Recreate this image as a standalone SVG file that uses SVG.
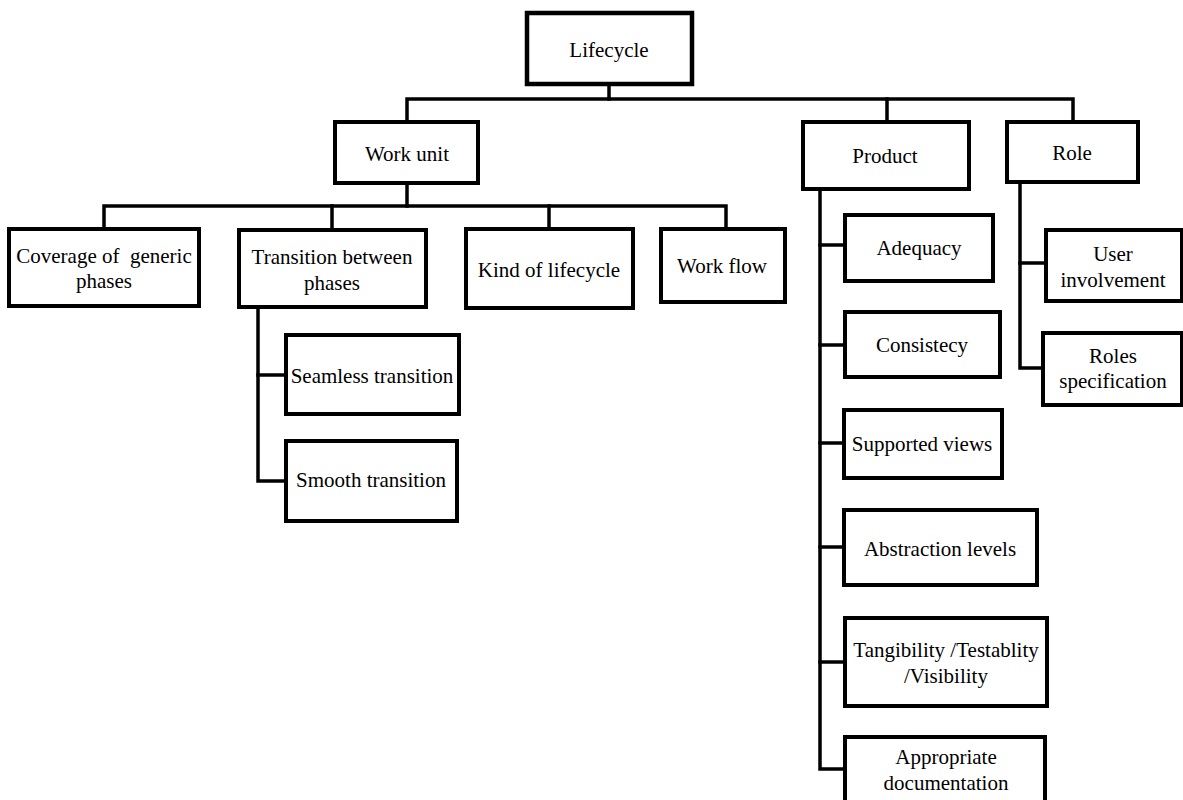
<svg xmlns="http://www.w3.org/2000/svg" width="1183" height="800" viewBox="0 0 1183 800">
  <defs>
    <!-- shared label look -->
  </defs>
  <rect width="1183" height="800" fill="#ffffff"/>

  <!-- connectors -->
  <g id="connectors" fill="none" stroke="#000000" stroke-width="3.5" stroke-linecap="square">
    <!-- root to first level -->
    <path d="M609 84 V99"/>
    <path d="M407 122 V99 H1073 V122"/>
    <path d="M887 99 V122"/>
    <!-- work unit children -->
    <path d="M407 183 V206"/>
    <path d="M104 229 V206 H726 V229"/>
    <path d="M332 206 V230"/>
    <path d="M549 206 V229"/>
    <!-- transition children -->
    <path d="M258 307 V481 H286"/>
    <path d="M258 375 H286"/>
    <!-- product children -->
    <path d="M820 189 V769 H845"/>
    <path d="M820 245 H845"/>
    <path d="M820 345 H845"/>
    <path d="M820 443 H844"/>
    <path d="M820 547 H844"/>
    <path d="M820 662 H845"/>
    <!-- role children -->
    <path d="M1020 182 V368 H1043"/>
    <path d="M1020 263 H1046"/>
  </g>

  <!-- nodes: white boxes with heavy black outline, centred labels -->
  <g id="nodes" fill="#ffffff" stroke="#000000" stroke-width="4">
  <g id="lifecycle">
    <rect x="527" y="13" width="165" height="71" stroke-width="4.5"/>
    <text x="609" y="57" font-family="'Liberation Serif'" font-size="21" text-anchor="middle" fill="#000000" stroke="none">Lifecycle</text>
  </g>

  <g id="work-unit">
    <rect x="335" y="122" width="143" height="61"/>
    <text x="407" y="161" font-family="'Liberation Serif'" font-size="21" text-anchor="middle" fill="#000000" stroke="none">Work unit</text>
  </g>

  <g id="product">
    <rect x="803" y="122" width="166" height="67"/>
    <text x="885" y="163" font-family="'Liberation Serif'" font-size="21" text-anchor="middle" fill="#000000" stroke="none">Product</text>
  </g>

  <g id="role">
    <rect x="1007" y="122" width="131" height="60"/>
    <text x="1072" y="160" font-family="'Liberation Serif'" font-size="21" text-anchor="middle" fill="#000000" stroke="none">Role</text>
  </g>

  <g id="coverage">
    <rect x="9" y="229" width="190" height="77"/>
    <text x="104" y="263" font-family="'Liberation Serif'" font-size="21" text-anchor="middle" fill="#000000" stroke="none" xml:space="preserve">Coverage of  generic</text>
    <text x="104" y="288" font-family="'Liberation Serif'" font-size="21" text-anchor="middle" fill="#000000" stroke="none">phases</text>
  </g>

  <g id="transition">
    <rect x="239" y="230" width="187" height="77"/>
    <text x="332" y="264" font-family="'Liberation Serif'" font-size="21" text-anchor="middle" fill="#000000" stroke="none">Transition between</text>
    <text x="332" y="290" font-family="'Liberation Serif'" font-size="21" text-anchor="middle" fill="#000000" stroke="none">phases</text>
  </g>

  <g id="kind">
    <rect x="466" y="229" width="167" height="79"/>
    <text x="549" y="277" font-family="'Liberation Serif'" font-size="21" text-anchor="middle" fill="#000000" stroke="none">Kind of lifecycle</text>
  </g>

  <g id="work-flow">
    <rect x="661" y="229" width="124" height="73"/>
    <text x="722" y="273" font-family="'Liberation Serif'" font-size="21" text-anchor="middle" fill="#000000" stroke="none">Work flow</text>
  </g>

  <g id="seamless">
    <rect x="286" y="335" width="173" height="79"/>
    <text x="372" y="383" font-family="'Liberation Serif'" font-size="21" text-anchor="middle" fill="#000000" stroke="none">Seamless transition</text>
  </g>

  <g id="smooth">
    <rect x="286" y="441" width="171" height="80"/>
    <text x="371" y="487" font-family="'Liberation Serif'" font-size="21" text-anchor="middle" fill="#000000" stroke="none">Smooth transition</text>
  </g>

  <g id="adequacy">
    <rect x="845" y="215" width="148" height="66"/>
    <text x="919" y="255" font-family="'Liberation Serif'" font-size="21" text-anchor="middle" fill="#000000" stroke="none">Adequacy</text>
  </g>

  <g id="consistecy">
    <rect x="845" y="312" width="155" height="65"/>
    <text x="922" y="352" font-family="'Liberation Serif'" font-size="21" text-anchor="middle" fill="#000000" stroke="none">Consistecy</text>
  </g>

  <g id="supported-views">
    <rect x="844" y="410" width="158" height="68"/>
    <text x="922" y="451" font-family="'Liberation Serif'" font-size="21" text-anchor="middle" fill="#000000" stroke="none">Supported views</text>
  </g>

  <g id="abstraction-levels">
    <rect x="844" y="510" width="193" height="75"/>
    <text x="940" y="556" font-family="'Liberation Serif'" font-size="21" text-anchor="middle" fill="#000000" stroke="none">Abstraction levels</text>
  </g>

  <g id="tangibility">
    <rect x="845" y="618" width="202" height="88"/>
    <text x="946" y="657" font-family="'Liberation Serif'" font-size="21" text-anchor="middle" fill="#000000" stroke="none">Tangibility /Testablity</text>
    <text x="946" y="683" font-family="'Liberation Serif'" font-size="21" text-anchor="middle" fill="#000000" stroke="none">/Visibility</text>
  </g>

  <g id="documentation">
    <rect x="845" y="737" width="200" height="70"/>
    <text x="946" y="764" font-family="'Liberation Serif'" font-size="21" text-anchor="middle" fill="#000000" stroke="none">Appropriate</text>
    <text x="946" y="790" font-family="'Liberation Serif'" font-size="21" text-anchor="middle" fill="#000000" stroke="none">documentation</text>
  </g>

  <g id="user-involvement">
    <rect x="1046" y="230" width="136" height="71"/>
    <text x="1113" y="261" font-family="'Liberation Serif'" font-size="21" text-anchor="middle" fill="#000000" stroke="none">User</text>
    <text x="1113" y="287" font-family="'Liberation Serif'" font-size="21" text-anchor="middle" fill="#000000" stroke="none">involvement</text>
  </g>

  <g id="roles-specification">
    <rect x="1043" y="333" width="139" height="72"/>
    <text x="1113" y="363" font-family="'Liberation Serif'" font-size="21" text-anchor="middle" fill="#000000" stroke="none">Roles</text>
    <text x="1113" y="388" font-family="'Liberation Serif'" font-size="21" text-anchor="middle" fill="#000000" stroke="none">specification</text>
  </g>
  </g>
</svg>
